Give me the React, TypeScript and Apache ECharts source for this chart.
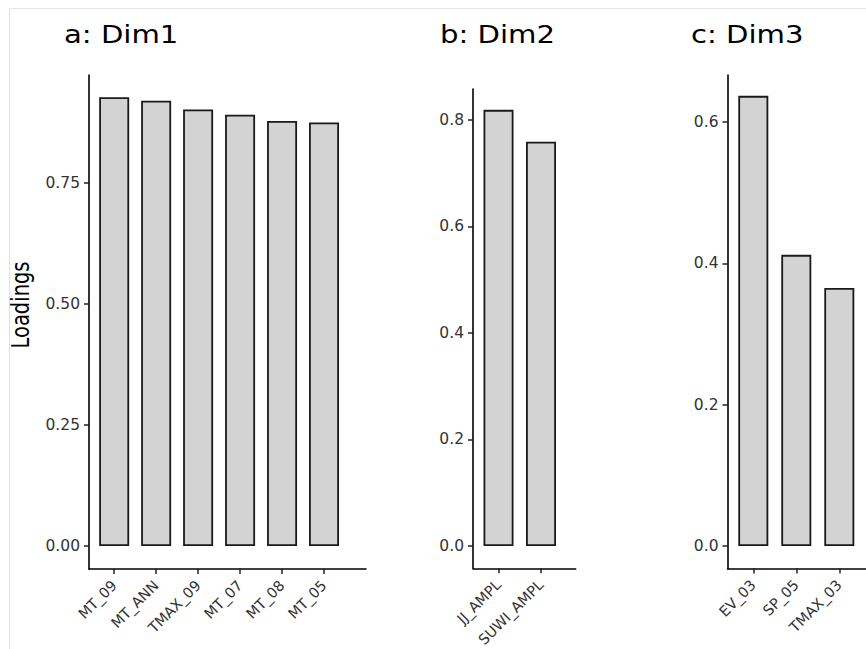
import React, { useEffect, useRef } from "react";
import * as echarts from "echarts";

const dim1Categories = ["MT_09", "MT_ANN", "TMAX_09", "MT_07", "MT_08", "MT_05"];
const dim1Values = [0.927, 0.92, 0.902, 0.891, 0.878, 0.875];
const dim1Ticks = [0, 0.25, 0.5, 0.75];

const dim2Categories = ["JJ_AMPL", "SUWI_AMPL"];
const dim2Values = [0.819, 0.759];
const dim2Ticks = [0, 0.2, 0.4, 0.6, 0.8];

const dim3Categories = ["EV_03", "SP_05", "TMAX_03"];
const dim3Values = [0.637, 0.412, 0.365];
const dim3Ticks = [0, 0.2, 0.4, 0.6];

const panelTitles = ["a: Dim1", "b: Dim2", "c: Dim3"];
const yAxisTitle = "Loadings";

const FONT = "DejaVu Sans";

export default function App() {
  const ref = useRef<HTMLDivElement>(null);

  useEffect(() => {
    document.body.style.margin = "0";
    if (!ref.current) return;
    const chart = echarts.init(ref.current, undefined, { renderer: "svg" });

    const panels = [
      { cats: dim1Categories, vals: dim1Values, ticks: dim1Ticks, dec: 2,
        grid: { left: 89, top: 75, width: 277, height: 494 },
        x: [0.4, 7.0], y: [-0.0475, 0.9731] },
      { cats: dim2Categories, vals: dim2Values, ticks: dim2Ticks, dec: 1,
        grid: { left: 473, top: 89, width: 102.7, height: 479.3 },
        x: [0.4, 2.816], y: [-0.0419, 0.8582] },
      { cats: dim3Categories, vals: dim3Values, ticks: dim3Ticks, dec: 1,
        grid: { left: 727.5, top: 75, width: 140, height: 493.5 },
        x: [0.4, 3.656], y: [-0.0318, 0.6665] },
    ];

    const axisLineStyle = { color: "#000", width: 1.6 };

    const option: any = {
      animation: false,
      backgroundColor: "#fff",
      grid: panels.map((p) => ({ ...p.grid, containLabel: false, outerBoundsMode: "none" })),
      xAxis: panels.map((p, i) => ({
        type: "value",
        gridIndex: i,
        min: p.x[0],
        max: p.x[1],
        splitLine: { show: false },
        axisLine: { show: true, onZero: false, lineStyle: axisLineStyle },
        axisTick: {
          show: true,
          length: 5,
          customValues: p.cats.map((_, k) => k + 1),
          lineStyle: { color: "#222", width: 1.5 },
        },
        axisLabel: {
          customValues: p.cats.map((_, k) => k + 1),
          formatter: (v: number) => p.cats[Math.round(v) - 1] ?? "",
          rotate: 45,
          margin: 14,
          fontSize: 14.5,
          fontFamily: FONT,
          color: "#333",
        },
      })),
      yAxis: panels.map((p, i) => ({
        type: "value",
        gridIndex: i,
        min: p.y[0],
        max: p.y[1],
        splitLine: { show: false },
        axisLine: { show: true, onZero: false, lineStyle: axisLineStyle },
        axisTick: {
          show: true,
          length: 5,
          customValues: p.ticks,
          lineStyle: { color: "#222", width: 1.5 },
        },
        axisLabel: {
          customValues: p.ticks,
          formatter: (v: number) => v.toFixed(p.dec),
          margin: 9,
          fontSize: 15.5,
          fontFamily: FONT,
          color: "#333",
        },
      })),
      series: panels.map((p, i) => ({
        type: "bar",
        xAxisIndex: i,
        yAxisIndex: i,
        barWidth: 30,
        data: p.vals.map((v, k) => [k + 1, v]),
        itemStyle: { color: "#d3d3d3", borderColor: "#1a1a1a", borderWidth: 1.8 },
      })),
      graphic: [
        { type: "line", shape: { x1: 9.5, y1: 8.5, x2: 900, y2: 8.5 }, style: { stroke: "#e6e6e6", lineWidth: 1 }, z: -1 },
        { type: "line", shape: { x1: 9.5, y1: 8.5, x2: 9.5, y2: 700 }, style: { stroke: "#e0e0e0", lineWidth: 1 }, z: -1 },
        ...panelTitles.map((t, i) => ({
          type: "text",
          x: [64, 440, 691][i],
          y: 34,
          scaleX: 1.19,
          style: {
            text: t,
            fontSize: 24.5,
            fontFamily: FONT,
            fill: "#000",
            align: "left",
            verticalAlign: "middle",
          },
        })),
        {
          type: "text",
          x: 21,
          y: 305,
          rotation: Math.PI / 2,
          scaleY: 1.25,
          style: {
            text: yAxisTitle,
            fontSize: 19.5,
            fontFamily: FONT,
            fill: "#000",
            align: "center",
            verticalAlign: "middle",
          },
        },
      ],
    };

    chart.setOption(option);
    return () => chart.dispose();
  }, []);

  return <div ref={ref} style={{ width: 866, height: 649 }} />;
}
